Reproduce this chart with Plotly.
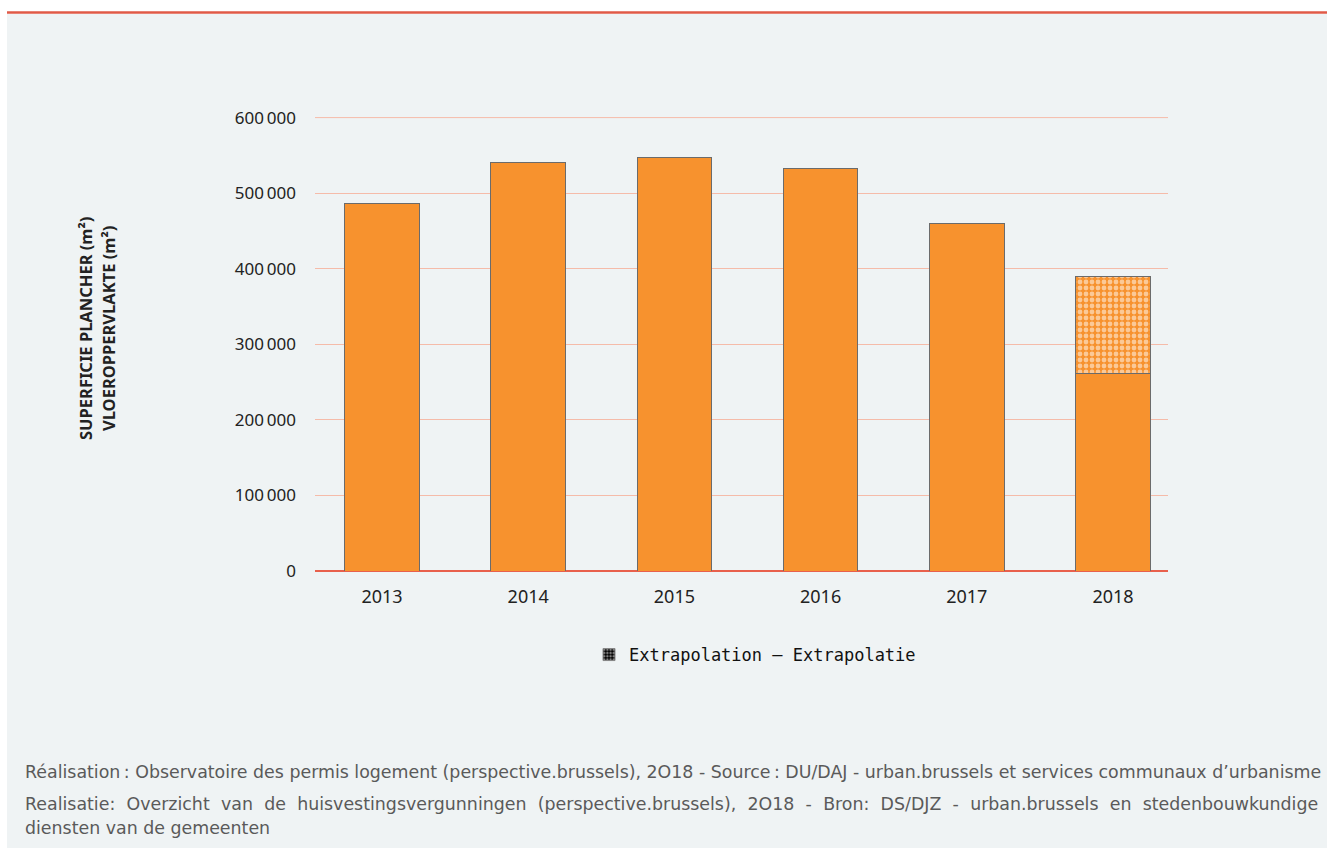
import plotly.graph_objects as go

years = ["2013", "2014", "2015", "2016", "2017", "2018"]
observed = [486000, 540500, 547000, 532500, 460000, 262000]
extrapolation = [None, None, None, None, None, 128000]
y_ticks = [0, 100000, 200000, 300000, 400000, 500000, 600000]
y_tick_labels = ["0", "100\u2009000", "200\u2009000", "300\u2009000", "400\u2009000", "500\u2009000", "600\u2009000"]

W, H = 1327, 848
L, R, T, B = 315, 1168, 117, 571
pw, ph = R - L, B - T

def px(x):
    return (x - L) / pw

def py(y):
    return (B - y) / ph

ORANGE = "#f7922e"
OUTLINE = "#6b6b6b"
GRID = "#f5bba9"

fig = go.Figure()
fig.add_trace(go.Bar(
    x=years, y=observed, marker=dict(color=ORANGE, line=dict(color=OUTLINE, width=1)),
    width=0.51, showlegend=False, hoverinfo="skip"))
fig.add_trace(go.Bar(
    x=years, y=extrapolation,
    marker=dict(color=ORANGE, line=dict(color=OUTLINE, width=1),
                pattern=dict(shape=".", fgcolor="white", bgcolor=ORANGE, size=6, solidity=0.5)),
    width=0.51, showlegend=False, hoverinfo="skip"))
fig.add_trace(go.Bar(
    x=[None], y=[None], name="Extrapolation \u2013 Extrapolatie",
    marker=dict(color="black", line=dict(color="#888", width=1),
                pattern=dict(shape=".", fgcolor="white", bgcolor="black", size=4, solidity=0.5)),
    showlegend=True))

shapes = [
    dict(type="rect", xref="paper", yref="paper", x0=px(7), x1=px(W + 5), y0=py(14), y1=py(H + 5),
         fillcolor="#eff3f4", line=dict(width=0), layer="below"),
    dict(type="line", xref="paper", yref="paper", x0=px(7), x1=px(W + 5), y0=py(12.5), y1=py(12.5),
         line=dict(color="#e05a47", width=2.5)),
    dict(type="line", xref="paper", yref="y", x0=0, x1=1, y0=max(y_ticks), y1=max(y_ticks),
         line=dict(color=GRID, width=1), layer="below"),
]

title_font = dict(family="Noto Sans", size=16.5, color="#222", weight="bold")
annotations = [
    dict(text="SUPERFICIE PLANCHER (m²)", xref="paper", yref="paper", x=px(85), y=py(329),
         textangle=-90, showarrow=False, font=title_font, xanchor="center", yanchor="middle"),
    dict(text="VLOEROPPERVLAKTE (m²)", xref="paper", yref="paper", x=px(108), y=py(329),
         textangle=-90, showarrow=False, font=title_font, xanchor="center", yanchor="middle"),
]
foot_font = dict(family="DejaVu Sans", size=17.4, color="#5a5a5a")
line2 = "Realisatie: Overzicht van de huisvestingsvergunningen (perspective.brussels), 2O18 - Bron: DS/DJZ - urban.brussels en stedenbouwkundige"
foot = [
    (772, "Réalisation\u2009: Observatoire des permis logement (perspective.brussels), 2O18 - Source\u2009: DU/DAJ - urban.brussels et services communaux d\u2019urbanisme"),
    (804, line2.replace(" ", " \u2004")),
    (828, "diensten van de gemeenten"),
]
for yy, t in foot:
    annotations.append(dict(text=t, xref="paper", yref="paper", x=px(23), y=py(yy), showarrow=False,
                            xanchor="left", yanchor="middle", font=foot_font))

fig.update_layout(
    width=W, height=H,
    margin=dict(l=L, r=W - R, t=T, b=H - B),
    paper_bgcolor="white", plot_bgcolor="rgba(0,0,0,0)",
    barmode="stack",
    font=dict(family="Noto Sans", size=16, color="#222"),
    shapes=shapes, annotations=annotations,
    legend=dict(orientation="h", x=px(755), y=py(655), xanchor="center", yanchor="middle",
                font=dict(family="DejaVu Sans Mono", size=17, color="#111"),
                bgcolor="rgba(0,0,0,0)", itemwidth=30),
    xaxis=dict(type="category", range=[-0.458, 5.376], showgrid=False, ticks="", showline=False,
               tickfont=dict(family="Noto Sans", size=18, color="#222"), ticklabelstandoff=13),
    yaxis=dict(range=[0, 600800], tickvals=y_ticks, ticktext=y_tick_labels,
               showgrid=True, gridcolor=GRID, gridwidth=1,
               zeroline=True, zerolinecolor="#e8604c", zerolinewidth=1.5,
               ticks="", ticklabelstandoff=18,
               tickfont=dict(family="Noto Sans", size=17, color="#222")),
)

fig.write_html("out.html")
